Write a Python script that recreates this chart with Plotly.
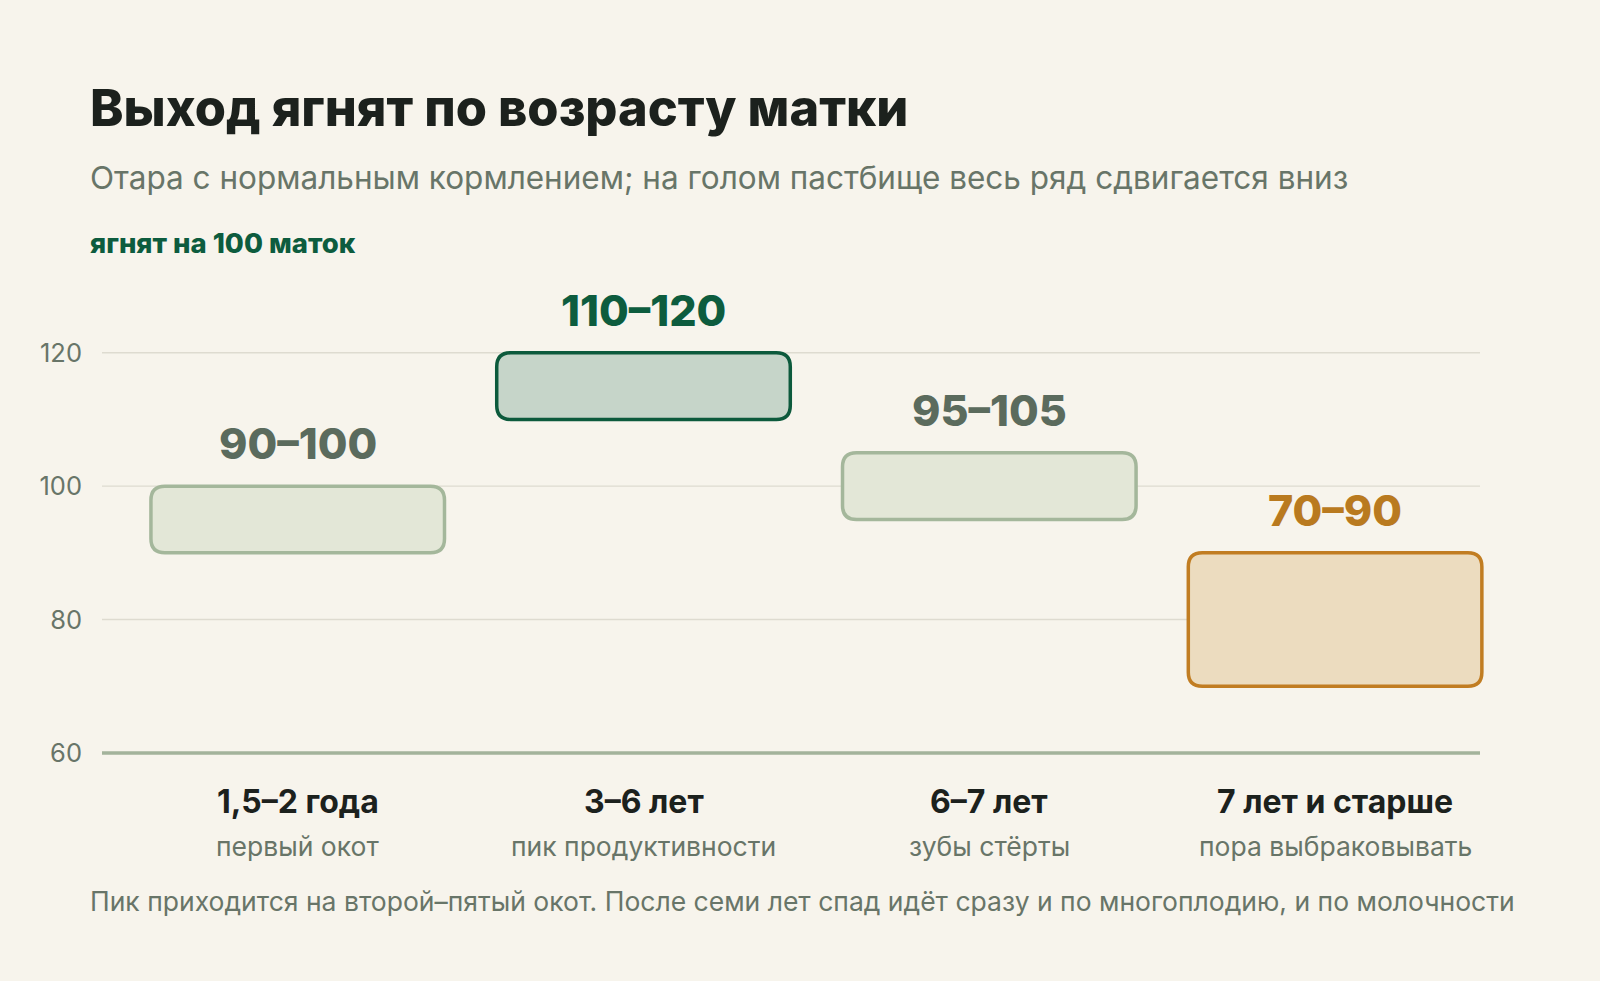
import plotly.graph_objects as go

# data
ages = ['1,5–2 года', '3–6 лет', '6–7 лет', '7 лет и старше']
notes = ['первый окот', 'пик продуктивности', 'зубы стёрты', 'пора выбраковывать']
low = [90, 110, 95, 70]
high = [100, 120, 105, 90]
y_ticks = [60, 80, 100, 120]

title = 'Выход ягнят по возрасту матки'
subtitle = 'Отара с нормальным кормлением; на голом пастбище весь ряд сдвигается вниз'
y_title = 'ягнят на 100 маток'
footer = 'Пик приходится на второй–пятый окот. После семи лет спад идёт сразу и по многоплодию, и по молочности'

# styles
BG = '#f7f4ec'
FONT = 'Inter'
INK = '#1c211d'
MUTED = '#687568'
GREEN = '#0d5c3e'
styles = [
    dict(line='#a4b79b', fill='#e3e7d7', text='#5b6b5d'),
    dict(line='#0c5a3c', fill='#c6d5c9', text=GREEN),
    dict(line='#a4b79b', fill='#e3e7d7', text='#5b6b5d'),
    dict(line='#c17d22', fill='#ecdcbf', text='#b97a1f'),
]

W, H = 1600, 981
L, R, T, B = 102, 110, 286, 228
pw, ph = W - L - R, H - T - B
x_range = [-0.566, 3.448]
y_range = [60, 130]
px_per_x = pw / (x_range[1] - x_range[0])
px_per_y = ph / (y_range[1] - y_range[0])


def paper_x(px):
    return (px - L) / pw


def paper_y(py):
    return (H - B - py) / ph


def rounded_box(xc, y0, y1, half=0.4245, r_px=14):
    rx, ry = r_px / px_per_x, r_px / px_per_y
    x0, x1 = xc - half, xc + half
    return (f'M {x0 + rx},{y0} L {x1 - rx},{y0} Q {x1},{y0} {x1},{y0 + ry} '
            f'L {x1},{y1 - ry} Q {x1},{y1} {x1 - rx},{y1} '
            f'L {x0 + rx},{y1} Q {x0},{y1} {x0},{y1 - ry} '
            f'L {x0},{y0 + ry} Q {x0},{y0} {x0 + rx},{y0} Z')


fig = go.Figure()
# invisible trace so the axes exist
fig.add_trace(go.Scatter(x=list(range(len(ages))), y=low, mode='markers',
                         marker=dict(opacity=0), hoverinfo='skip', showlegend=False))

shapes = []
# gridlines
grid_right = paper_x(1480)
for t in y_ticks[1:]:
    shapes.append(dict(type='line', xref='paper', yref='y', x0=0, x1=grid_right, y0=t, y1=t,
                       line=dict(color='#dedbd0', width=1.4), layer='below'))
# baseline in paper coords so it isn't clipped at the plot edge
shapes.append(dict(type='line', xref='paper', yref='paper', x0=0, x1=grid_right, y0=0, y1=0,
                   line=dict(color='#a3b39b', width=3.5), layer='below'))

for i, (lo, hi, s) in enumerate(zip(low, high, styles)):
    shapes.append(dict(type='path', xref='x', yref='y', path=rounded_box(i, lo, hi),
                       fillcolor=s['fill'], line=dict(color=s['line'], width=3.5), layer='above'))

annotations = []
for i, (lo, hi, s) in enumerate(zip(low, high, styles)):
    annotations.append(dict(x=i, y=hi, xref='x', yref='y', text=f'{lo}–{hi}', showarrow=False,
                            yanchor='middle', yshift=43,
                            font=dict(family=FONT, size=43, weight=800, color=s['text'])))
    annotations.append(dict(x=i, y=paper_y(801), xref='x', yref='paper', text=ages[i],
                            showarrow=False, yanchor='middle',
                            font=dict(family=FONT, size=32, weight=700, color=INK)))
    annotations.append(dict(x=i, y=paper_y(846), xref='x', yref='paper', text=notes[i],
                            showarrow=False, yanchor='middle',
                            font=dict(family=FONT, size=26.5, color=MUTED)))

annotations += [
    dict(x=paper_x(88), y=paper_y(107), xref='paper', yref='paper', text=title,
         showarrow=False, xanchor='left', yanchor='middle',
         font=dict(family=FONT, size=50.5, weight=800, color=INK)),
    dict(x=paper_x(88), y=paper_y(177), xref='paper', yref='paper', text=subtitle,
         showarrow=False, xanchor='left', yanchor='middle',
         font=dict(family=FONT, size=31.5, color=MUTED)),
    dict(x=paper_x(88), y=paper_y(243), xref='paper', yref='paper', text=y_title,
         showarrow=False, xanchor='left', yanchor='middle',
         font=dict(family=FONT, size=27.5, weight=800, color=GREEN)),
    dict(x=paper_x(88), y=paper_y(901), xref='paper', yref='paper', text=footer,
         showarrow=False, xanchor='left', yanchor='middle',
         font=dict(family=FONT, size=26.5, color=MUTED)),
]

fig.update_layout(
    width=W, height=H,
    margin=dict(l=L, r=R, t=T, b=B, pad=0),
    paper_bgcolor=BG, plot_bgcolor=BG,
    shapes=shapes, annotations=annotations,
    showlegend=False,
    hovermode=False,
)
fig.update_xaxes(range=x_range, showgrid=False, zeroline=False, showticklabels=False,
                 showline=False, fixedrange=True)
fig.update_yaxes(range=y_range, tickvals=y_ticks, showgrid=False, zeroline=False, showline=False,
                 ticks='', ticklabelstandoff=19,
                 tickfont=dict(family=FONT, size=25.5, color=MUTED), fixedrange=True)

# drop the default page margin so the figure fills the window
fig.write_html('out.html', config=dict(displayModeBar=False),
               post_script="document.body.style.margin='0';document.body.style.overflow='hidden';")
